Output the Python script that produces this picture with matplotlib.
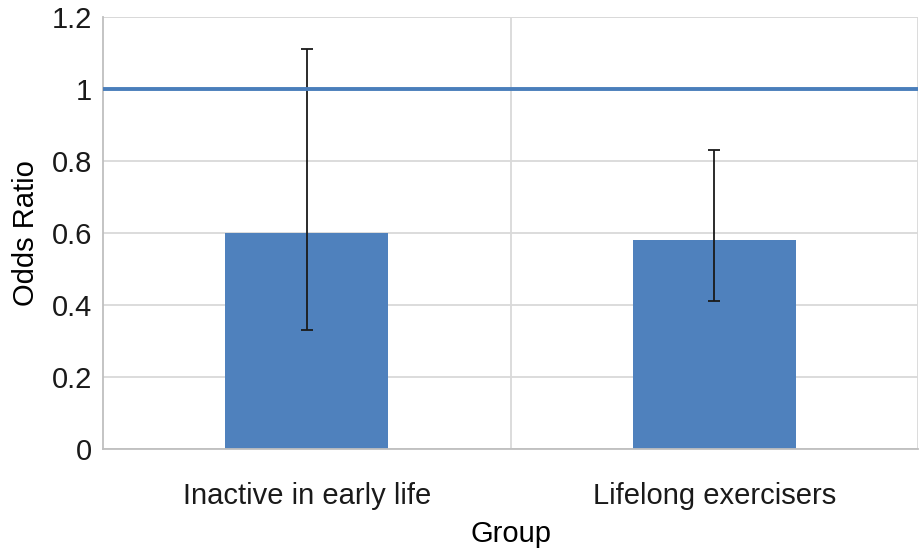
import numpy as np
import matplotlib
matplotlib.use("Agg")
from matplotlib import pyplot as plt

plt.rcParams['font.family'] = ['Liberation Sans', 'DejaVu Sans']

# data
groups = ['Inactive in early life', 'Lifelong exercisers']
odds = [0.60, 0.58]
ci_low = [0.33, 0.41]
ci_high = [1.11, 0.83]
yticks = [0, 0.2, 0.4, 0.6, 0.8, 1.0, 1.2]
ytick_labels = ['0', '0.2', '0.4', '0.6', '0.8', '1', '1.2']

fig = plt.figure(figsize=(9.21, 5.5), dpi=100)
ax = fig.add_axes([103 / 921, 1 - 449 / 550, 815 / 921, 432 / 550])

x = np.arange(len(groups))
yerr = [np.array(odds) - np.array(ci_low), np.array(ci_high) - np.array(odds)]
ax.bar(x, odds, width=0.4, color='#4f81bd', zorder=2)
ax.errorbar(x, odds, yerr=yerr, fmt='none', ecolor='#1a1a1a',
            elinewidth=1.3, capsize=4.5, capthick=1.3, zorder=3)

# reference line at OR = 1
ax.axhline(1.0, color='#4a7ebb', linewidth=2.8, zorder=4)

ax.set_xlim(-0.5, 1.5)
ax.set_ylim(0, 1.2)
ax.set_yticks(yticks)
ax.set_yticklabels(ytick_labels)
ax.set_xticks(x)
ax.set_xticklabels(groups)

# grid: horizontal lines plus category separators
ax.yaxis.grid(True, color='#d9d9d9', linewidth=1.3, zorder=0)
for xv in [0.5, 1.5]:
    ax.axvline(xv, color='#d9d9d9', linewidth=1.3, zorder=0)
ax.axhline(1.2, color='#d9d9d9', linewidth=1.3, zorder=0)

for side in ['top', 'right']:
    ax.spines[side].set_visible(False)
for side in ['left', 'bottom']:
    ax.spines[side].set_color('#bfbfbf')
    ax.spines[side].set_linewidth(1.3)

ax.tick_params(axis='both', length=0, labelsize=21, colors='#1a1a1a')
ax.tick_params(axis='y', pad=8)
ax.tick_params(axis='x', pad=24)

ax.set_ylabel('Odds Ratio', fontsize=21, labelpad=8)
ax.set_xlabel('Group', fontsize=21, labelpad=7)

fig.savefig('out.png', dpi=100)
